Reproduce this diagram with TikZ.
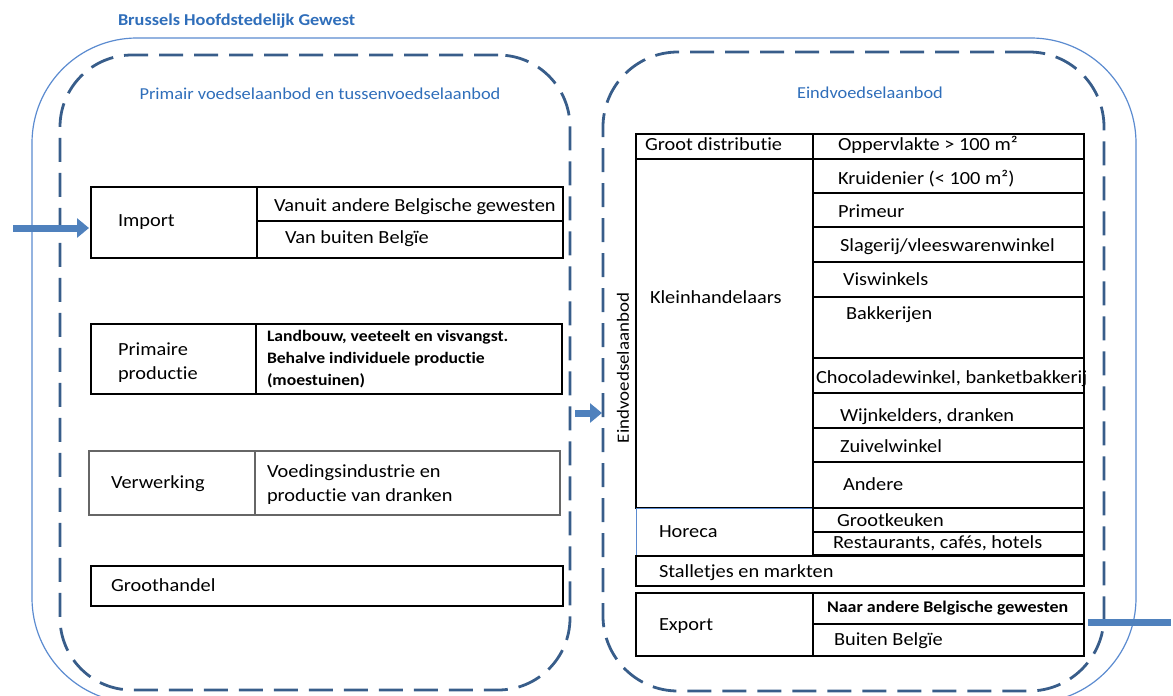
\documentclass[tikz,border=0pt]{standalone}
\usepackage{fontspec}
\setmainfont{Carlito}[FakeStretch=1.1, Ligatures=NoCommon]
\usetikzlibrary{arrows.meta}
\usetikzlibrary{positioning,fit}
\definecolor{frameblue}{HTML}{385D8A}
\definecolor{outerblue}{HTML}{5B8BD0}
\definecolor{headblue}{HTML}{2F6EBA}
\definecolor{arrowblue}{HTML}{4F81BD}

\begin{document}
\begin{tikzpicture}[%
        x=1pt, y=-1pt,
        every node/.style={inner sep=0pt, outer sep=0pt},
        cell/.style={draw=black, line width=1.4pt},
        greycell/.style={draw=black!60, line width=1.4pt},
        thincell/.style={draw=outerblue, line width=0.9pt},
        frame/.style={draw=frameblue, line width=2.8pt, dash pattern=on 24pt off 11pt, rounded corners=72pt},
        txt/.style={anchor=west, font=\fontsize{18.5}{22}\selectfont, text height=12pt, text depth=4pt},
        multi/.style={anchor=west, align=left, font=\fontsize{18.5}{24}\selectfont},
        boldtxt/.style={anchor=west, align=left, font=\bfseries\fontsize{16}{22}\selectfont},
        head/.style={text=headblue, font=\fontsize{16.7}{19}\selectfont},
        flow/.style={draw=arrowblue, line width=7pt, -{Triangle[length=12pt, width=19pt]}},
        shorten >=2pt
      ]
      \useasboundingbox (0,0) rectangle (1173,696);
      \node [draw=outerblue, line width=1.2pt, rounded corners=105pt, fit={(32,38) (1136,703)}] (region) {};
      \node [text=headblue, anchor=west, font=\bfseries\fontsize{16.6}{19}\selectfont] (regiont) at (118,21) {Brussels Hoofdstedelijk Gewest};

      \node [frame, fit={(60,55) (570,690)}] (lframe) {};
      \node [frame, rounded corners=75pt, fit={(603,52) (1104,691)}] (rframe) {};
      \node [head] (lhead) at (320,94) {Primair voedselaanbod en tussenvoedselaanbod};
      \node [head] (rhead) at (870,93) {Eindvoedselaanbod};

      \node [cell, fit={(91,187) (257,258)}] (imp) {};
      \node [cell, fit={(257,187) (563,221)}] (impa) {};
      \node [cell, fit={(257,221) (563,258)}] (impb) {};
      \node [txt] (impt) at (118,222) {Import};
      \node [txt] (impat) at (274,207) {Vanuit andere Belgische gewesten};
      \node [txt] (impbt) at (285,239) {Van buiten Belgïe};

      \node [cell, fit={(91,324) (256,394)}] (prim) {};
      \node [cell, fit={(256,324) (562,394)}] (primb) {};
      \node [multi] (primt) at (118,363) {Primaire\\productie};
      \node [boldtxt] (primbt) at (267,359) {Landbouw, veeteelt en visvangst.\\Behalve individuele productie\\(moestuinen)};

      \node [greycell, fit={(89,451) (255,515)}] (verw) {};
      \node [greycell, fit={(255,451) (560,515)}] (verwb) {};
      \node [txt] (verwt) at (111,484) {Verwerking};
      \node [multi] (verwbt) at (267,485) {Voedingsindustrie en\\productie van dranken};

      \node [cell, fit={(91,566) (563,606)}] (groot) {};
      \node [txt] (grootl) at (111,587) {Groothandel};

      \node [cell, fit={(636,134) (813,159)}] (gd) {};
      \node [cell, fit={(813,134) (1084,159)}] (opp) {};
      \node [cell, fit={(636,159) (813,508)}] (kh) {};
      \node [thincell, fit={(636,508) (813,555)}] (hor) {};
      \node [cell, fit={(813,159) (1084,193)}] (kr) {};
      \node [cell, fit={(813,193) (1084,227)}] (pr) {};
      \node [cell, fit={(813,227) (1084,262)}] (sl) {};
      \node [cell, fit={(813,262) (1084,297)}] (vi) {};
      \node [cell, fit={(813,297) (1084,358)}] (ba) {};
      \node [cell, fit={(813,358) (1084,393)}] (ch) {};
      \node [cell, fit={(813,393) (1084,428)}] (wi) {};
      \node [cell, fit={(813,428) (1084,462)}] (zu) {};
      \node [cell, fit={(813,462) (1084,508)}] (an) {};
      \node [cell, fit={(813,508) (1084,532)}] (gk) {};
      \node [cell, fit={(813,532) (1084,555)}] (re) {};
      \node [cell, fit={(636,556) (1084,586)}] (stal) {};
      \node [cell, fit={(636,593) (813,656)}] (exp) {};
      \node [cell, fit={(813,593) (1084,624)}] (na) {};
      \node [cell, fit={(813,624) (1084,656)}] (bu) {};

      \node [txt] (gdt) at (645,146) {Groot distributie};
      \node [txt] (oppt) at (838,146) {Oppervlakte > 100 m²};
      \node [txt] (kht) at (650,299) {Kleinhandelaars};
      \node [txt] (krt) at (838,180) {Kruidenier (< 100 m²)};
      \node [txt] (prt) at (838,213) {Primeur};
      \node [txt] (slt) at (840,247) {Slagerij/vleeswarenwinkel};
      \node [txt] (vit) at (843,281) {Viswinkels};
      \node [txt] (bat) at (846,315) {Bakkerijen};
      \node [txt] (cht) at (816,379) {Chocoladewinkel, banketbakkerij};
      \node [txt] (wit) at (840,417) {Wijnkelders, dranken};
      \node [txt] (zut) at (840,448) {Zuivelwinkel};
      \node [txt] (ant) at (843,486) {Andere};
      \node [txt] (hort) at (659,533) {Horeca};
      \node [txt] (gkt) at (837,522) {Grootkeuken};
      \node [txt] (ret) at (833,544) {Restaurants, cafés, hotels};
      \node [txt] (stalt) at (659,573) {Stalletjes en markten};
      \node [txt] (expt) at (659,626) {Export};
      \node [boldtxt, font=\bfseries\fontsize{16.3}{20}\selectfont] (nat) at (827,608) {Naar andere Belgische gewesten};
      \node [txt] (but) at (834,641) {Buiten Belgïe};
      \node [rotate=90, font=\fontsize{17.2}{20}\selectfont] (eind) at (623,368) {Eindvoedselaanbod};

      \coordinate (src) at (13,228);
      \coordinate (mid) at (0,413);
      \coordinate (dst) at (1173,622);
      \draw [flow] (src) -- (src -| imp.west);
      \draw [flow, shorten <=5pt, shorten >=1pt] (lframe.east |- mid) -- (rframe.west |- mid);
      \draw [draw=arrowblue, line width=7pt, shorten <=4pt] (bu.north east |- dst) -- (dst);
    \end{tikzpicture}
\end{document}
